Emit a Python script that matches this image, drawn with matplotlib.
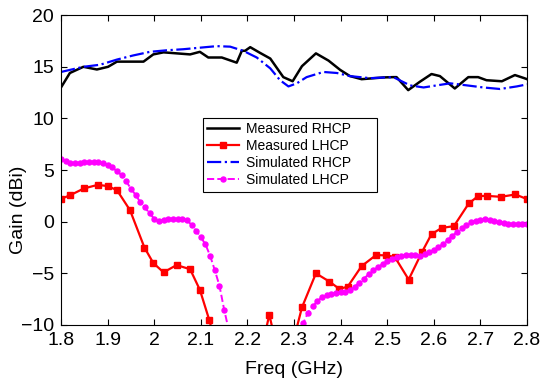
import numpy as np
from matplotlib import pyplot as plt

plt.rcParams['font.family'] = ['Liberation Sans', 'DejaVu Sans']

# measured RHCP
mr_freq = [1.8, 1.819, 1.848, 1.877, 1.901, 1.92, 1.977, 1.998, 2.02, 2.077, 2.098, 2.116,
           2.145, 2.177, 2.188, 2.195, 2.206, 2.227, 2.249, 2.277, 2.297, 2.317, 2.347,
           2.374, 2.399, 2.42, 2.445, 2.492, 2.513, 2.52, 2.545, 2.57, 2.595, 2.613,
           2.645, 2.674, 2.695, 2.713, 2.746, 2.774, 2.794, 2.8]
mr_gain = [13.0, 14.4, 15.0, 14.74, 15.0, 15.5, 15.5, 16.2, 16.4, 16.2, 16.45, 15.9,
           15.9, 15.4, 16.55, 16.55, 16.9, 16.35, 15.8, 14.0, 13.6, 15.06, 16.3,
           15.6, 14.7, 14.1, 13.8, 13.97, 14.0, 14.0, 12.74, 13.55, 14.3, 14.1,
           12.9, 14.0, 14.0, 13.7, 13.6, 14.2, 13.9, 13.8]

# measured LHCP (points below -10 fall outside the axes)
ml_freq = [1.8, 1.819, 1.849, 1.879, 1.9, 1.92, 1.948, 1.979, 1.998, 2.02, 2.048, 2.077,
           2.098, 2.118, 2.145, 2.175, 2.2, 2.222, 2.247, 2.272, 2.296, 2.317, 2.347,
           2.376, 2.397, 2.415, 2.445, 2.476, 2.497, 2.516, 2.546, 2.575, 2.595, 2.617,
           2.643, 2.675, 2.695, 2.715, 2.744, 2.775, 2.8]
ml_gain = [2.22, 2.55, 3.22, 3.57, 3.45, 3.06, 1.12, -2.5, -4.0, -4.9, -4.2, -4.6,
           -6.6, -9.5, -14, -18, -18, -14, -9.0, -14, -12, -8.3, -5.0,
           -5.8, -6.5, -6.3, -4.3, -3.23, -3.26, -3.4, -5.6, -2.9, -1.2, -0.6,
           -0.43, 1.77, 2.48, 2.5, 2.41, 2.64, 2.19]

# simulated RHCP
sr_freq = [1.8, 1.848, 1.884, 1.92, 1.955, 1.991, 2.027, 2.062, 2.098, 2.134, 2.163,
           2.191, 2.22, 2.249, 2.27, 2.288, 2.306, 2.327, 2.363, 2.392, 2.42, 2.463,
           2.513, 2.549, 2.578, 2.606, 2.635, 2.671, 2.706, 2.742, 2.778, 2.8]
sr_gain = [14.5, 15.0, 15.2, 15.7, 16.1, 16.45, 16.6, 16.7, 16.85, 17.0, 16.95,
           16.55, 15.9, 14.85, 13.7, 13.1, 13.4, 14.0, 14.5, 14.4, 14.1, 13.9,
           14.0, 13.2, 13.0, 13.2, 13.4, 13.2, 13.0, 12.85, 13.1, 13.3]

# simulated LHCP, 1.80-2.80 GHz in 0.01 steps (nan = far below the axes)
sl_freq = np.round(np.arange(1.8, 2.805, 0.01), 2)
sl_gain = [6.1, 5.85, 5.7, 5.65, 5.7, 5.75, 5.8, 5.8, 5.75, 5.7,
           5.5, 5.25, 4.9, 4.5, 3.9, 3.2, 2.6, 1.9, 1.4, 0.8,
           0.3, 0.1, 0.15, 0.25, 0.3, 0.3, 0.3, 0.15, -0.3, -0.9,
           -1.5, -2.2, -3.3, -4.7, -6.2, -8.5, -10.5, -13, np.nan, np.nan,
           np.nan, np.nan, np.nan, np.nan, np.nan, np.nan, np.nan, np.nan, np.nan, np.nan,
           -13, -12, -9.8, -8.8, -8.2, -7.7, -7.3, -7.1, -7.0, -6.9,
           -6.85, -6.8, -6.6, -6.3, -5.9, -5.5, -5.1, -4.7, -4.4, -4.1,
           -3.85, -3.6, -3.4, -3.3, -3.25, -3.25, -3.25, -3.3, -3.15, -2.95,
           -2.7, -2.45, -2.15, -1.75, -1.35, -1.0, -0.65, -0.35, -0.05, 0.1,
           0.2, 0.25, 0.2, 0.1, 0.0, -0.1, -0.2, -0.25, -0.25, -0.25,
           -0.2]

fig = plt.figure(figsize=(5.4, 3.79), dpi=100)
ax = fig.add_axes([0.113, 0.1425, 0.863, 0.8175])

ax.plot(mr_freq, mr_gain, color='black', lw=1.8, label='Measured RHCP')
ax.plot(ml_freq, ml_gain, color='red', lw=1.6, marker='s', ms=5, label='Measured LHCP')
ax.plot(sr_freq, sr_gain, color='blue', lw=1.6, ls='-.', label='Simulated RHCP')
ax.plot(sl_freq, sl_gain, color='magenta', lw=1.4, ls='--', marker='o', ms=3.6,
        label='Simulated LHCP')

ax.set_xlim(1.8, 2.8)
ax.set_ylim(-10, 20)
ax.set_xticks(np.arange(1.8, 2.81, 0.1))
ax.set_xticklabels(['1.8', '1.9', '2', '2.1', '2.2', '2.3', '2.4', '2.5', '2.6', '2.7', '2.8'])
ax.set_yticks([-10, -5, 0, 5, 10, 15, 20])
ax.tick_params(direction='in', top=True, right=True, labelsize=14, length=4, pad=5)
ax.set_xlabel('Freq (GHz)', fontsize=14)
ax.set_ylabel('Gain (dBi)', fontsize=14)
# label positions as in the original (y label sits below centre)
ax.xaxis.set_label_coords(0.5, -0.115)
ax.yaxis.set_label_coords(-0.073, 0.371)
for s in ax.spines.values():
  s.set_linewidth(0.8)

leg = ax.legend(loc='upper left', bbox_to_anchor=(0.305, 0.668, 0.372, 0.0), mode='expand',
                fontsize=10, fancybox=False, edgecolor='black', framealpha=1,
                handlelength=2.3, handletextpad=0.45, borderaxespad=0, labelspacing=0.22,
                borderpad=0.3)
leg.get_frame().set_linewidth(0.8)

plt.savefig('out.png', dpi=100)
